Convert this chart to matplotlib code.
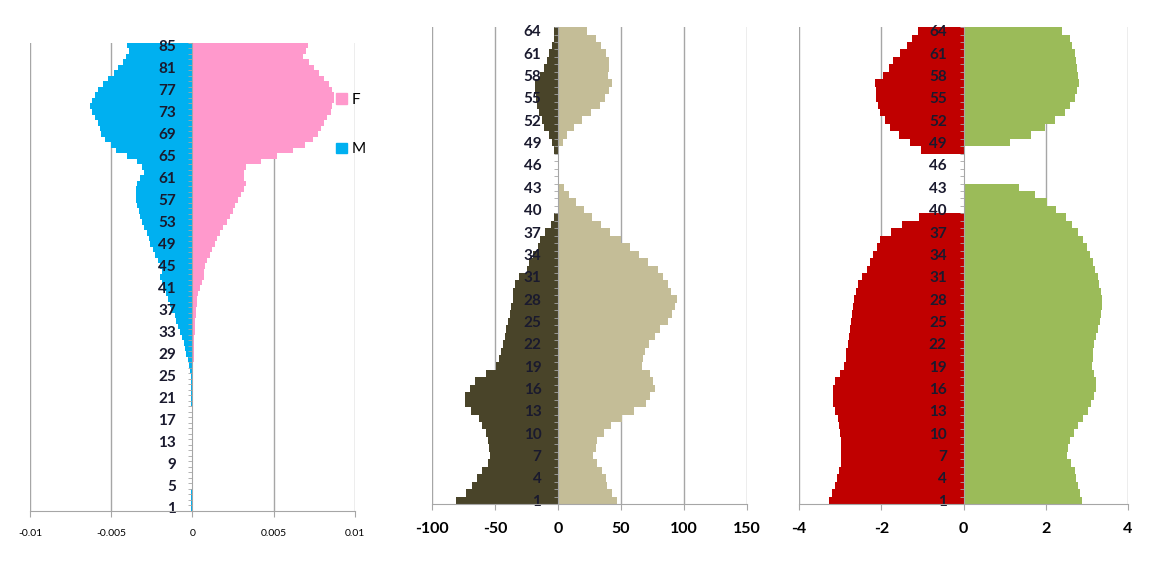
import numpy as np
import matplotlib
matplotlib.use("Agg")
import matplotlib.pyplot as plt
from matplotlib.patches import Patch

plt.rcParams['font.family'] = ['Lato', 'DejaVu Sans']

# ---- panel 1: ages 1..85, shares by sex
ages1 = np.arange(1, 86)
male1 = [-0.00008, -0.00008, -0.00007, -0.00007, -0.00006, -0.00006, -0.00005, -0.00005, -0.00005, -0.00004,
         -0.00004, -0.00004, -0.00004, -0.00005, -0.00005, -0.00005, -0.00006, -0.00006, -0.00006, -0.00007,
         -0.00007, -0.00008, -0.00009, -0.0001, -0.00012, -0.00018, -0.00022, -0.0003, -0.0004, -0.00045,
         -0.00055, -0.00065, -0.00075, -0.0009, -0.001, -0.0011, -0.0013, -0.0014, -0.0015, -0.0016,
         -0.0018, -0.0019, -0.002, -0.0019, -0.002, -0.0021, -0.0023, -0.0024, -0.0026, -0.0027,
         -0.0028, -0.003, -0.0031, -0.0032, -0.0033, -0.0034, -0.0035, -0.0035, -0.0035, -0.0034,
         -0.0032, -0.003, -0.0031, -0.0034, -0.004, -0.0047, -0.005, -0.0054, -0.0056, -0.0057,
         -0.0058, -0.006, -0.0062, -0.0063, -0.0062, -0.006, -0.0058, -0.0055, -0.0052, -0.0048,
         -0.0046, -0.0043, -0.0041, -0.0039, -0.004]
female1 = [0.00002, 0.00002, 0.00002, 0.00002, 0.00002, 0.00002, 0.00002, 0.00002, 0.00002, 0.00002,
           0.00002, 0.00002, 0.00002, 0.00002, 0.00002, 0.00002, 0.00002, 0.00002, 0.00002, 0.00002,
           0.00002, 0.00002, 0.00003, 0.00003, 0.00003, 0.00005, 0.00006, 0.00007, 0.00008, 0.0001,
           0.00011, 0.00012, 0.00013, 0.00015, 0.00017, 0.0002, 0.00023, 0.00027, 0.0003, 0.00037,
           0.00047, 0.0006, 0.0007, 0.0007, 0.0008, 0.0009, 0.0011, 0.0012, 0.0014, 0.0015,
           0.0017, 0.0019, 0.0021, 0.0023, 0.0025, 0.0026, 0.0028, 0.003, 0.0032, 0.0033,
           0.0032, 0.0032, 0.0033, 0.0042, 0.0052, 0.0062, 0.0069, 0.0074, 0.0077, 0.0079,
           0.0081, 0.0083, 0.0085, 0.0086, 0.0087, 0.0087, 0.0086, 0.0084, 0.0081, 0.0078,
           0.0075, 0.0072, 0.0068, 0.007, 0.0071]

# ---- panels 2 and 3: categories 1..64
cats = np.arange(1, 65)
neg2 = [-81, -73, -68, -64, -60, -56, -54, -55, -56, -57,
        -60, -63, -69, -74, -74, -70, -66, -57, -49, -47,
        -45, -44, -42, -41, -40, -38, -37, -36, -35.5, -34,
        -31, -25, -23, -20, -16, -14, -10, -6, -3, 0,
        0, 0, 0, 0, 0, 0, 0, -3.5, -5, -7,
        -11, -13, -15.5, -17, -17.6, -18, -18, -14, -11, -9,
        -7, -5, -3.5, -3]
pos2 = [47, 43, 39, 38, 35, 31, 28, 30, 31, 36.6,
        42, 51, 60.6, 70, 72.6, 77, 75, 73, 66.5, 67,
        69, 72, 77, 81, 87, 90.5, 93, 94, 90, 87,
        83, 79, 71, 64, 57, 50, 41, 34, 27, 20.5,
        14, 8.5, 4.5, 0, 0, 0, 0, 0, 3.7, 7,
        12.5, 19, 26, 33, 37, 40.5, 43, 40, 40.5, 40.5,
        38, 34, 30, 23]
neg3 = [-3.26, -3.2, -3.13, -3.08, -3.02, -2.98, -2.97, -2.97, -2.98, -3.0,
        -3.02, -3.06, -3.12, -3.17, -3.18, -3.18, -3.13, -3.0, -2.9, -2.87,
        -2.85, -2.82, -2.79, -2.76, -2.74, -2.72, -2.69, -2.66, -2.62, -2.56,
        -2.46, -2.35, -2.27, -2.19, -2.11, -2.02, -1.77, -1.49, -1.09, 0,
        0, 0, 0, 0, 0, 0, 0, -1.03, -1.31, -1.57,
        -1.79, -1.92, -2.03, -2.08, -2.12, -2.14, -2.16, -1.95, -1.81, -1.71,
        -1.55, -1.37, -1.25, -1.1]
pos3 = [2.88, 2.82, 2.78, 2.73, 2.7, 2.62, 2.51, 2.54, 2.58, 2.68,
        2.78, 2.9, 3.02, 3.1, 3.18, 3.22, 3.22, 3.18, 3.12, 3.14,
        3.16, 3.18, 3.22, 3.26, 3.32, 3.34, 3.36, 3.36, 3.34, 3.3,
        3.26, 3.2, 3.14, 3.08, 3.0, 2.9, 2.78, 2.64, 2.5, 2.26,
        2.02, 1.73, 1.35, 0, 0, 0, 0, 0, 1.14, 1.65,
        1.97, 2.22, 2.46, 2.58, 2.7, 2.76, 2.8, 2.78, 2.76, 2.74,
        2.7, 2.64, 2.58, 2.4]

grid_c = '#A6A6A6'
lab_c = '#1a1a2e'


def style_panel(ax, n, step, xticks, xlabels, xfs, xweight):
    ax.set_ylim(0.5, n + 0.5)
    ax.set_xlim(xticks[0], xticks[-1])
    ax.set_xticks(xticks)
    ax.set_xticklabels(xlabels, fontsize=xfs, fontweight=xweight, color='black')
    for s in ['top', 'right']:
        ax.spines[s].set_visible(False)
    ax.spines['left'].set_position(('data', 0))
    ax.spines['left'].set_color(grid_c)
    ax.spines['bottom'].set_color(grid_c)
    ax.tick_params(axis='x', direction='out', length=4, color=grid_c, pad=9)
    ax.set_yticks(np.arange(1, n + 1, step))
    ax.set_yticklabels([str(v) for v in range(1, n + 1, step)])
    ax.set_yticks(np.arange(0.5, n + 1, 1), minor=True)
    ax.tick_params(axis='y', which='major', length=0, pad=12, labelsize=11, labelcolor=lab_c)
    ax.tick_params(axis='y', which='minor', length=3, color=grid_c, direction='out')
    for t in ax.get_yticklabels():
        t.set_fontweight('bold')
    ax.grid(False)
    for xv in xticks:
        if xv != 0:
            ax.axvline(xv, color=grid_c, lw=1, zorder=0)


fig = plt.figure(figsize=(11.54, 5.76), dpi=100)

ax1 = fig.add_axes([0.026, 0.1134, 0.2816, 0.812])
ax1.barh(ages1, male1, height=1.0, color='#00B0F0', label='M')
ax1.barh(ages1, female1, height=1.0, color='#FF99CC', label='F')
style_panel(ax1, 85, 4, [-0.01, -0.005, 0, 0.005, 0.01],
            ['-0.01', '-0.005', '0', '0.005', '0.01'], 7.5, 'normal')
ax1.legend(handles=[Patch(color='#FF99CC', label='F'), Patch(color='#00B0F0', label='M')],
           loc='upper left', bbox_to_anchor=(0.943, 0.894), frameon=False,
           borderpad=0, borderaxespad=0,
           handlelength=0.7, handleheight=0.7, handletextpad=0.3,
           labelspacing=2.35, fontsize=11)

ax2 = fig.add_axes([0.3744, 0.125, 0.273, 0.828])
ax2.barh(cats, neg2, height=1.0, color='#494429')
ax2.barh(cats, pos2, height=1.0, color='#C4BD97')
style_panel(ax2, 64, 3, [-100, -50, 0, 50, 100, 150],
            ['-100', '-50', '0', '50', '100', '150'], 11.5, 'bold')

ax3 = fig.add_axes([0.6924, 0.125, 0.2851, 0.828])
ax3.barh(cats, neg3, height=1.0, color='#C00000')
ax3.barh(cats, pos3, height=1.0, color='#9BBB59')
style_panel(ax3, 64, 3, [-4, -2, 0, 2, 4],
            ['-4', '-2', '0', '2', '4'], 11.5, 'bold')

fig.savefig('out.png', dpi=100)
